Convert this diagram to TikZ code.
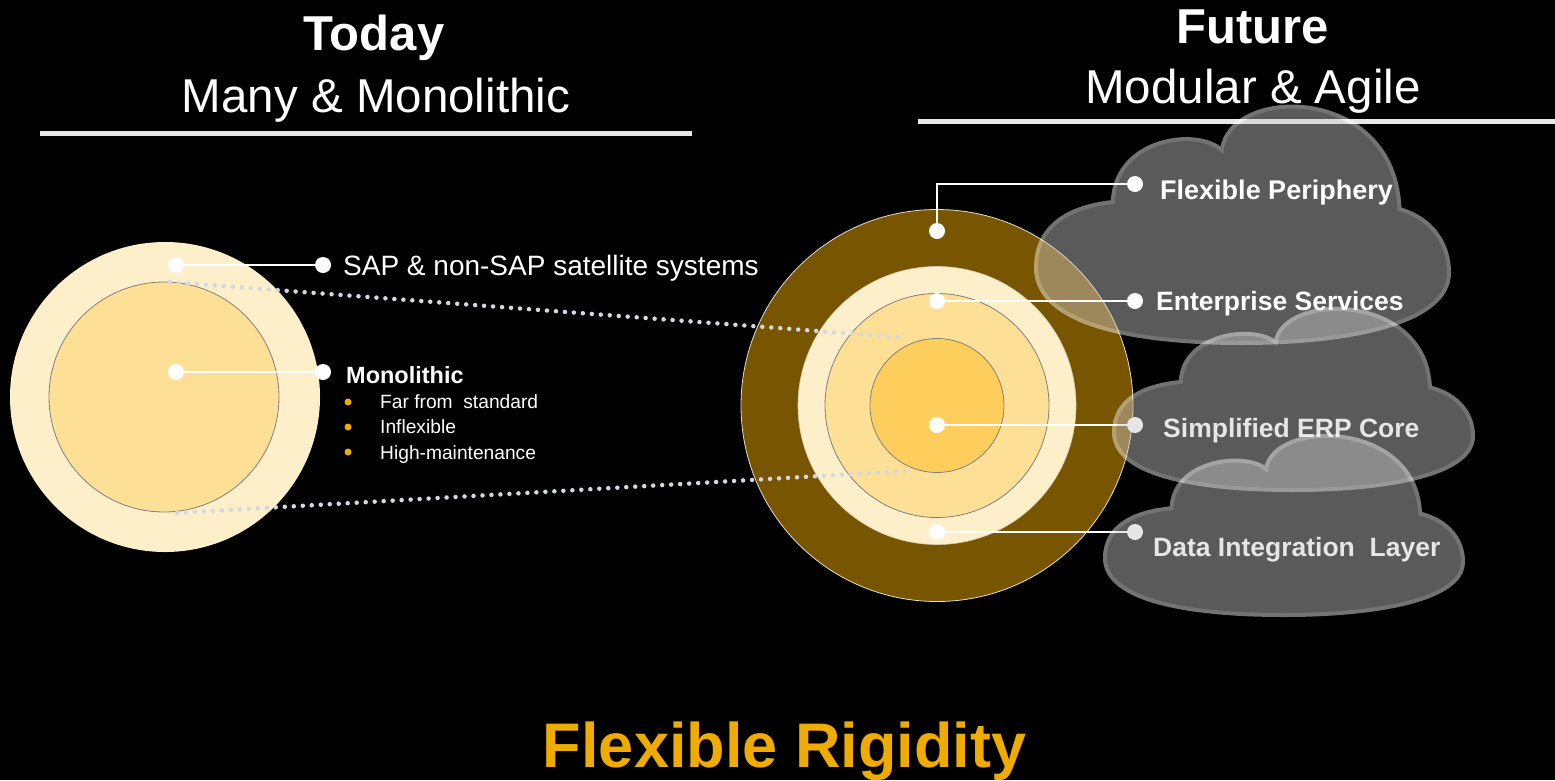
\documentclass[tikz,border=0pt]{standalone}
\usepackage{fontspec}
\setmainfont{Liberation Sans}
\definecolor{cream}{HTML}{FDEFC9}
\definecolor{lightgold}{HTML}{FDE096}
\definecolor{midgold}{HTML}{FECE5C}
\definecolor{brownring}{HTML}{785500}
\definecolor{sapgold}{HTML}{F0AB00}
\definecolor{dotgray}{HTML}{D5D8DE}
\definecolor{ringline}{HTML}{808080}
\definecolor{cloudfill}{HTML}{C8C8C8}
\definecolor{rulegray}{HTML}{E8E8E8}
\tikzset{
  pics/sapcloud/.style={code={
    \path[fill=cloudfill, draw=white, line width=4pt]
      (0,0.68) .. controls (0,0.5) and (0.08,0.42) .. (0.186,0.40)
      .. controls (0.19,0.13) and (0.39,0.08) .. (0.45,0.18)
      .. controls (0.47,-0.1) and (0.87,-0.1) .. (0.88,0.43)
      .. controls (0.96,0.47) and (1,0.58) .. (1,0.70)
      .. controls (1,0.92) and (0.75,1) .. (0.5,1)
      .. controls (0.2,1) and (0,0.9) .. (0,0.68) -- cycle;
  }},
  dotw/.style={circle, fill=white, inner sep=0pt, minimum size=16pt},
  conn/.style={white, line width=2.5pt},
  dotline/.style={dotgray, line width=4.5pt, dash pattern=on 0pt off 9pt, line cap=round},
  ringdraw/.style={draw=ringline, line width=0.8pt},
  bul/.style={circle, fill=sapgold, inner sep=0pt, minimum size=7pt},
  txt/.style={inner sep=0pt, text=white, anchor=base west},
  cloudgroup/.style={transparency group, opacity=0.45}
}
\begin{document}
\begin{tikzpicture}[x=1pt,y=-1pt]
\fill[black] (0,0) rectangle (1555,780);
\useasboundingbox (0,0) rectangle (1555,780);

% headers
\node[inner sep=0pt, text=white, anchor=base, font=\fontsize{49}{55}\selectfont\bfseries] (today) at (374,50) {Today};
\node[inner sep=0pt, text=white, anchor=base, font=\fontsize{47.5}{55}\selectfont] (many) at (376,112) {Many \& Monolithic};
\draw[rulegray, line width=5pt] (40,133) -- (692,133);
\node[inner sep=0pt, text=white, anchor=base, font=\fontsize{49}{55}\selectfont\bfseries] (future) at (1253,43) {Future};
\node[inner sep=0pt, text=white, anchor=base, font=\fontsize{47.5}{55}\selectfont] (modular) at (1253,103) {Modular \& Agile};
\draw[rulegray, line width=5pt] (918,121) -- (1555,121);

% left circles
\fill[cream] (165,397) circle (155);
\path[fill=lightgold, ringdraw] (164,397) circle (115);

\node[dotw] (l1) at (176,265) {};
\node[dotw] (l1e) at (323,265) {};
\draw[conn] (l1) -- (l1e);
\node[dotw] (l2) at (176,372) {};
\node[dotw] (l2e) at (323,372) {};
\draw[conn] (l2) -- (l2e);

\node[txt, font=\fontsize{28}{32}\selectfont] (sap) at (343,275) {SAP \& non-SAP satellite systems};
\node[txt, font=\fontsize{23.5}{26}\selectfont\bfseries] (mono) at (346,383) {Monolithic};
\node[bul] (b1) at (348,402) {};
\node[bul] (b2) at (348,427) {};
\node[bul] (b3) at (348,452) {};
\node[txt, font=\fontsize{19.2}{22}\selectfont] (t1) at (380,408) {Far from\ \ standard};
\node[txt, font=\fontsize{19.2}{22}\selectfont] (t2) at (380,433) {Inflexible};
\node[txt, font=\fontsize{19.2}{22}\selectfont] (t3) at (380,459) {High-maintenance};

% right circles
\path[fill=brownring, draw=white!80!brownring, line width=0.8pt] (937,405.5) circle (196);
\path[fill=cream, draw=white!70!brownring, line width=0.6pt] (937,405.5) circle (139);
\path[fill=lightgold, ringdraw] (937,405.5) circle (112);
\path[fill=midgold, ringdraw] (937,405.5) circle (67);

% dotted links
\coordinate (dA1) at (170,282);
\coordinate (dA2) at (897,337);
\coordinate (dB1) at (177,513);
\coordinate (dB2) at (907,471);
\draw[dotline] (dA1) -- (dA2);
\draw[dotline] (dB1) -- (dB2);

% top cloud
\begin{scope}[cloudgroup]
\pic[shift={(1036,108)}, xscale=413, yscale=235] {sapcloud};
\end{scope}

% top connectors and labels
\node[dotw] (r1) at (937,231) {};
\node[dotw] (r1e) at (1135,184) {};
\draw[conn] (r1) |- (r1e);
\node[dotw] (r2) at (937,301) {};
\node[dotw] (r2e) at (1135,301) {};
\draw[conn] (r2) -- (r2e);
\node[txt, font=\fontsize{27}{30}\selectfont\bfseries] (flex) at (1160,199) {Flexible Periphery};
\node[txt, font=\fontsize{26.5}{30}\selectfont\bfseries] (ent) at (1156,310) {Enterprise Services};

% lower connectors and labels (under the clouds)
\node[dotw] (r3) at (937,425) {};
\node[dotw] (r3e) at (1135,425) {};
\draw[conn] (r3) -- (r3e);
\node[dotw] (r4) at (937,532) {};
\node[dotw] (r4e) at (1135,532) {};
\draw[conn] (r4) -- (r4e);
\node[txt, font=\fontsize{26.5}{30}\selectfont\bfseries] (erp) at (1163,437) {Simplified ERP Core};
\node[txt, font=\fontsize{26.5}{30}\selectfont\bfseries] (dil) at (1153,556) {Data Integration\ \ Layer};

\begin{scope}[cloudgroup]
\pic[shift={(1114,310)}, xscale=359, yscale=180] {sapcloud};
\end{scope}
\begin{scope}[cloudgroup]
\pic[shift={(1105,437)}, xscale=358, yscale=178] {sapcloud};
\end{scope}

% bottom title
\node[inner sep=0pt, text=sapgold, anchor=base, font=\fontsize{63}{70}\selectfont\bfseries] (rig) at (784.5,767) {Flexible Rigidity};
\end{tikzpicture}
\end{document}
